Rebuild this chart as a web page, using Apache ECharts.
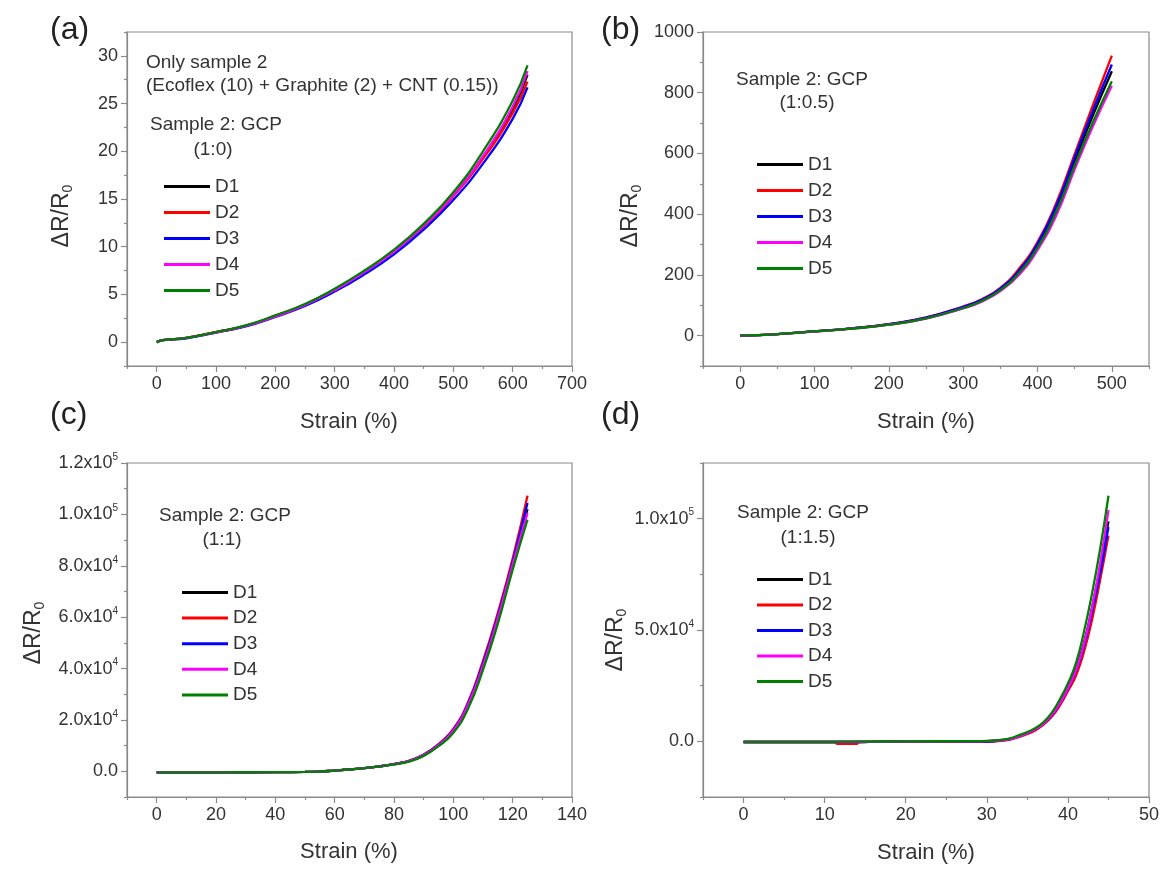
<!DOCTYPE html>
<html>
<head>
<meta charset="utf-8">
<script src="https://cdn.jsdelivr.net/npm/echarts@6/dist/echarts.min.js"></script>
<style>
  html, body { margin: 0; background: #fff; }
  #chart { width: 1168px; height: 869px; }
</style>
</head>
<body>
<div id="chart"></div>
<script>
// ---- data ----
var names = ['D1', 'D2', 'D3', 'D4', 'D5'];
var colors = ['#000000', '#ff0000', '#0000ff', '#ff00ff', '#008000'];

// (a) GCP 1:0
var aStrain = [0, 10, 50, 100, 150, 200, 250, 300, 350, 400, 450, 500, 550, 600, 625];
var aD1 = [0, 0.2, 0.45, 1.05, 1.7, 2.75, 3.95, 5.5, 7.4, 9.55, 12.2, 15.4, 19.4, 24.4, 28.0];
var aD2 = [0, 0.2, 0.45, 1.05, 1.7, 2.75, 3.95, 5.5, 7.35, 9.5, 12.1, 15.3, 19.2, 24.0, 27.3];
var aD3 = [0, 0.2, 0.4, 1.0, 1.65, 2.65, 3.8, 5.3, 7.1, 9.2, 11.8, 14.9, 18.7, 23.4, 26.7];
var aD4 = [0, 0.2, 0.45, 1.0, 1.7, 2.7, 3.9, 5.45, 7.35, 9.5, 12.2, 15.4, 19.5, 24.7, 28.4];
var aD5 = [0, 0.2, 0.45, 1.05, 1.75, 2.8, 4.0, 5.6, 7.5, 9.7, 12.4, 15.7, 20.0, 25.3, 29.0];

// (b) GCP 1:0.5
var bStrain = [0, 25, 50, 100, 150, 200, 250, 300, 325, 350, 375, 400, 425, 450, 475, 500];
var bD1 = [0, 2, 5, 14, 24, 37, 58, 93, 116, 152, 210, 295, 418, 575, 728, 871];
var bD2 = [0, 2, 5, 14, 24, 38, 60, 96, 120, 157, 220, 308, 435, 598, 762, 922];
var bD3 = [0, 2, 5, 14, 24, 38, 59, 95, 118, 155, 214, 302, 426, 587, 744, 893];
var bD4 = [0, 2, 5, 13, 23, 36, 56, 90, 112, 147, 200, 282, 395, 548, 692, 823];
var bD5 = [0, 2, 5, 14, 23, 36, 57, 91, 114, 150, 206, 290, 407, 560, 705, 838];

// (c) GCP 1:1
var cStrain = [0, 20, 40, 50, 55, 60, 65, 70, 75, 80, 85, 90, 95, 100, 105, 110, 115, 120, 125];
var cD1 = [-400, -400, -300, -250, -100, 300, 700, 1200, 1900, 2800, 4000, 6300, 10300, 16000, 26200, 41500, 60000, 81000, 102000];
var cD2 = [-400, -400, -300, -250, -100, 300, 700, 1200, 1900, 2800, 4100, 6500, 10600, 16500, 27000, 43000, 61700, 82800, 107300];
var cD3 = [-400, -400, -300, -250, -100, 300, 700, 1200, 1900, 2800, 4000, 6400, 10400, 16200, 26500, 42000, 60500, 81500, 104400];
var cD4 = [-400, -400, -300, -250, -100, 300, 700, 1200, 1900, 2800, 4000, 6300, 10200, 15900, 26000, 41000, 59500, 80500, 100500];
var cD5 = [-400, -400, -300, -250, -100, 300, 700, 1200, 1900, 2700, 3800, 6000, 9800, 15000, 24500, 39500, 57500, 78500, 97900];

// (d) GCP 1:1.5
var dStrain = [0, 10, 11.4, 11.5, 14, 14.1, 20, 28, 30, 32, 33, 34, 35, 36, 37, 38, 39, 40, 41, 42, 43, 44, 45];
var dD1 = [-300, -300, -300, -300, -300, -300, 0, 0, 100, 600, 1200, 2400, 3800, 5600, 8200, 12000, 17300, 24000, 32500, 44500, 60500, 78500, 98800];
var dD2 = [-300, -300, -300, -1100, -1100, -300, 0, -200, -200, 300, 900, 2000, 3300, 5000, 7500, 11000, 16000, 22500, 29500, 40500, 55000, 73000, 92400];
var dD3 = [-300, -300, -300, -300, -300, -300, 0, -100, -100, 500, 1100, 2300, 3700, 5400, 8000, 11600, 16800, 23500, 31500, 43000, 58500, 76000, 96200];
var dD4 = [-300, -300, -300, -300, -300, -300, 0, 0, 100, 550, 1150, 2300, 3700, 5400, 8000, 11800, 17000, 23800, 32000, 44000, 60500, 80500, 103800];
var dD5 = [-300, -300, -300, -100, -100, -100, 0, 100, 200, 770, 1500, 2800, 4200, 6000, 8600, 12800, 18800, 26000, 35200, 49500, 66800, 87000, 110300];

// tick values
var aXMajor = [0, 100, 200, 300, 400, 500, 600, 700];
var aXMinor = [-50, 50, 150, 250, 350, 450, 550, 650];
var aYMajor = [0, 5, 10, 15, 20, 25, 30];
var aYMinor = [-2.5, 2.5, 7.5, 12.5, 17.5, 22.5, 27.5, 32.5];
var bXMajor = [0, 100, 200, 300, 400, 500];
var bXMinor = [-50, 50, 150, 250, 350, 450, 550];
var bYMajor = [0, 200, 400, 600, 800, 1000];
var bYMinor = [-100, 100, 300, 500, 700, 900];
var cXMajor = [0, 20, 40, 60, 80, 100, 120, 140];
var cXMinor = [-10, 10, 30, 50, 70, 90, 110, 130];
var cYMajor = [0, 20000, 40000, 60000, 80000, 100000, 120000];
var cYMinor = [-10000, 10000, 30000, 50000, 70000, 90000, 110000];
var dXMajor = [0, 10, 20, 30, 40, 50];
var dXMinor = [-5, 5, 15, 25, 35, 45];
var dYMajor = [0, 50000, 100000];
var dYMinor = [-25000, 25000, 75000, 125000];

// ---- style ----
var FONT = '"Liberation Sans", Arial, sans-serif';
var frameColor = '#8a8a8a';
var textColor = '#333';

function plainLabel(v) {
    return String(v);
}

function sciLabel(v) {
    if (v === 0) return '{m|0.0}';
    var e = Math.floor(Math.log10(v) + 1e-9);
    var m = v / Math.pow(10, e);
    return '{m|' + m.toFixed(1) + 'x10}{e|' + e + '}';
}

var sciRich = {
    m: {fontSize: 18, color: textColor, fontFamily: FONT, lineHeight: 22},
    e: {fontSize: 10, color: textColor, fontFamily: FONT, lineHeight: 10, verticalAlign: 'top'}
};

var panels = [
    {rect: [127, 32, 445, 334], x: [-50, 700], y: [-2.5, 32.5], xMajor: aXMajor, xMinor: aXMinor, yMajor: aYMajor, yMinor: aYMinor, strain: aStrain, vals: [aD1, aD2, aD3, aD4, aD5], sci: false},
    {rect: [703, 32, 446, 334], x: [-50, 550], y: [-100, 1000], xMajor: bXMajor, xMinor: bXMinor, yMajor: bYMajor, yMinor: bYMinor, strain: bStrain, vals: [bD1, bD2, bD3, bD4, bD5], sci: false},
    {rect: [127, 463, 445, 334], x: [-10, 140], y: [-10000, 120000], xMajor: cXMajor, xMinor: cXMinor, yMajor: cYMajor, yMinor: cYMinor, strain: cStrain, vals: [cD1, cD2, cD3, cD4, cD5], sci: true},
    {rect: [703, 463, 446, 334], x: [-5, 50], y: [-25000, 125000], xMajor: dXMajor, xMinor: dXMinor, yMajor: dYMajor, yMinor: dYMinor, strain: dStrain, vals: [dD1, dD2, dD3, dD4, dD5], sci: true}
];

var grids = [], xAxes = [], yAxes = [], series = [];

function mainAxis(k, pos, range, majors, labelOpt) {
    return {
        type: 'value', gridIndex: k, position: pos, min: range[0], max: range[1],
        axisLine: {show: true, onZero: false, lineStyle: {color: frameColor, width: 1.2}},
        axisTick: {show: true, customValues: majors, length: 6, lineStyle: {color: frameColor, width: 1.2}},
        axisLabel: labelOpt,
        splitLine: {show: false}
    };
}

function minorAxis(k, pos, range, minors) {
    return {
        type: 'value', gridIndex: k, position: pos, min: range[0], max: range[1],
        axisLine: {show: false, onZero: false},
        axisTick: {show: true, customValues: minors, length: 3, lineStyle: {color: frameColor, width: 1.2}},
        axisLabel: {show: false},
        splitLine: {show: false}
    };
}

panels.forEach(function (p, k) {
    grids.push({
        left: p.rect[0], top: p.rect[1], width: p.rect[2], height: p.rect[3],
        show: true, borderColor: frameColor, borderWidth: 1.2, backgroundColor: 'transparent'
    });
    xAxes.push(mainAxis(k, 'bottom', p.x, p.xMajor, {
        customValues: p.xMajor, formatter: plainLabel, color: textColor, fontSize: 18, fontFamily: FONT, margin: 9
    }));
    xAxes.push(minorAxis(k, 'bottom', p.x, p.xMinor));
    yAxes.push(mainAxis(k, 'left', p.y, p.yMajor, p.sci ? {
        customValues: p.yMajor, margin: 9, formatter: sciLabel, rich: sciRich
    } : {
        customValues: p.yMajor, formatter: plainLabel, color: textColor, fontSize: 18, fontFamily: FONT, margin: 9
    }));
    yAxes.push(minorAxis(k, 'left', p.y, p.yMinor));
    p.vals.forEach(function (v, i) {
        series.push({
            name: names[i],
            type: 'line',
            xAxisIndex: 2 * k,
            yAxisIndex: 2 * k,
            color: colors[i],
            showSymbol: false,
            smooth: 0.5,
            lineStyle: {width: 2.3, color: colors[i]},
            data: p.strain.map(function (s, j) { return [s, v[j]]; })
        });
    });
});

function legendAt(left, top, gap) {
    return {
        left: left, top: top, orient: 'vertical', padding: 0, itemGap: gap,
        data: names, icon: 'rect', itemWidth: 46, itemHeight: 3, selectedMode: false,
        textStyle: {fontSize: 19, lineHeight: 18, color: textColor, fontFamily: FONT}
    };
}

function txt(x, y, text, size, align, color) {
    return {
        type: 'text', x: x, y: y, silent: true,
        style: {text: text, fontSize: size, fontFamily: FONT, fill: color || textColor, align: align || 'left', verticalAlign: 'middle'}
    };
}

function yTitle(x, y) {
    return {
        type: 'text', x: x, y: y, rotation: Math.PI / 2, silent: true,
        style: {
            text: '{a|ΔR/R}{b|0}', align: 'center', verticalAlign: 'middle',
            rich: {
                a: {fontSize: 23, fontFamily: FONT, fill: textColor, color: textColor, lineHeight: 26},
                b: {fontSize: 14, fontFamily: FONT, fill: textColor, color: textColor, lineHeight: 14, verticalAlign: 'bottom'}
            }
        }
    };
}

var graphics = [
    txt(50, 30, '(a)', 32, 'left', '#222'),
    txt(601, 30, '(b)', 32, 'left', '#222'),
    txt(50, 415, '(c)', 32, 'left', '#222'),
    txt(601, 415, '(d)', 32, 'left', '#222'),
    txt(349, 422, 'Strain (%)', 22, 'center'),
    txt(926, 422, 'Strain (%)', 22, 'center'),
    txt(349, 852, 'Strain (%)', 22, 'center'),
    txt(926, 853, 'Strain (%)', 22, 'center'),
    yTitle(62, 216),
    yTitle(631, 216),
    yTitle(34, 633),
    yTitle(616, 640),
    txt(146, 63, 'Only sample 2', 19),
    txt(146, 86, '(Ecoflex (10) + Graphite (2) + CNT (0.15))', 19),
    txt(150, 125, 'Sample 2: GCP', 19),
    txt(213, 150, '(1:0)', 19, 'center'),
    txt(736, 80, 'Sample 2: GCP', 19),
    txt(807, 103, '(1:0.5)', 19, 'center'),
    txt(159, 516, 'Sample 2: GCP', 19),
    txt(222, 540, '(1:1)', 19, 'center'),
    txt(737, 513, 'Sample 2: GCP', 19),
    txt(808, 538, '(1:1.5)', 19, 'center')
];

var chart = echarts.init(document.getElementById('chart'), null, {renderer: 'canvas'});
chart.setOption({
    animation: false,
    backgroundColor: '#ffffff',
    grid: grids,
    xAxis: xAxes,
    yAxis: yAxes,
    legend: [
        legendAt(164, 177, 7),
        legendAt(757, 155, 7),
        legendAt(182, 583, 6.6),
        legendAt(757, 570, 6.5)
    ],
    graphic: graphics,
    series: series
});
</script>
</body>
</html>
